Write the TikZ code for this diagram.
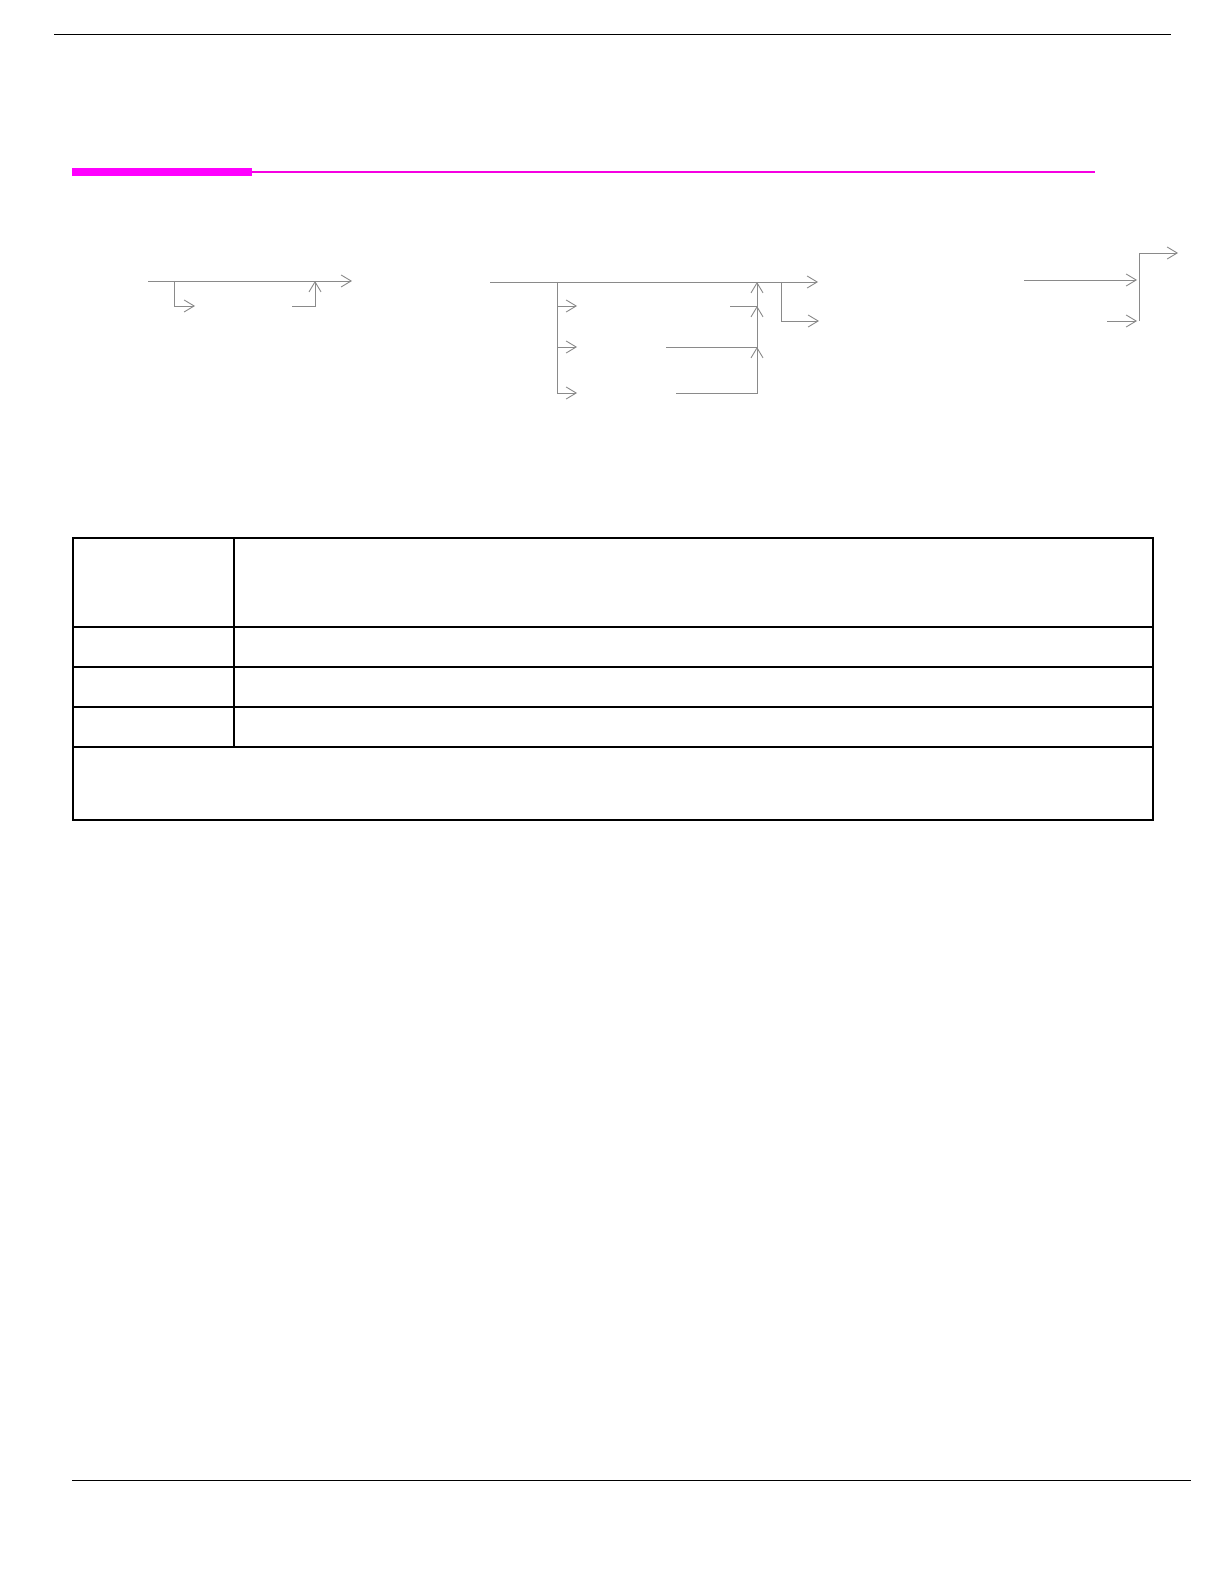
\documentclass[tikz,border=0pt]{standalone}
\usetikzlibrary{arrows.meta}
\definecolor{flowgray}{HTML}{8A8A8A}
\definecolor{rulemag}{HTML}{FF00FF}
\tikzset{
  flow/.style={draw=flowgray, line width=0.45pt},
  flowarrow/.style={flow, -{Straight Barb[length=5pt, width=6pt, line width=0.45pt]}},
  blackrule/.style={draw=black, line width=0.65pt},
  tableline/.style={draw=black, line width=0.55pt},
}
\begin{document}
\begin{tikzpicture}[x=0.5pt, y=-0.5pt]
\useasboundingbox (0,0) rectangle (1224,1582);
\fill[white] (0,0) rectangle (1224,1582);

% page rules
\coordinate (topL) at (54,34.3);
\coordinate (topR) at (1171,34.3);
\draw[blackrule] (topL) -- (topR);
\coordinate (botL) at (72,1480.3);
\coordinate (botR) at (1191,1480.3);
\draw[blackrule] (botL) -- (botR);

% magenta heading rule
\coordinate (magA) at (72,172);
\coordinate (magB) at (252,172);
\coordinate (magC) at (1095,172);
\draw[rulemag, line width=3.9pt] (magA) -- (magB);
\draw[rulemag!85!purple, line width=1.1pt] (magB) -- (magC);

% ---- diagram 1 ----
\coordinate (d1s) at (148,281);
\coordinate (d1e) at (352,281);
\coordinate (d1b) at (174,281);
\coordinate (d1bd) at (174,306);
\coordinate (d1be) at (195,306);
\coordinate (d1us) at (292,306);
\coordinate (d1uc) at (315,306);
\coordinate (d1ue) at (315,281);
\draw[flowarrow] (d1s) -- (d1e);
\draw[flowarrow] (d1b) -- (d1bd) -- (d1be);
\draw[flowarrow] (d1us) -- (d1uc) -- (d1ue);

% ---- diagram 2 ----
\coordinate (d2s) at (490,282);
\coordinate (d2e) at (818,282);
\draw[flowarrow] (d2s) -- (d2e);
\coordinate (d2vt) at (557,282);
\coordinate (d2vb) at (557,393);
\draw[flow] (d2vt) -- (d2vb);
\coordinate (d2a1) at (557,306);
\coordinate (d2a1e) at (577,306);
\coordinate (d2a2) at (557,347);
\coordinate (d2a2e) at (577,347);
\coordinate (d2a3e) at (577,393);
\draw[flowarrow] (d2a1) -- (d2a1e);
\draw[flowarrow] (d2a2) -- (d2a2e);
\draw[flowarrow] (d2vb) -- (d2a3e);
\coordinate (d2r3s) at (676,393);
\coordinate (d2r3c) at (757,393);
\coordinate (d2r2s) at (666,347);
\coordinate (d2r2c) at (757,347);
\coordinate (d2r1s) at (730,306);
\coordinate (d2r1c) at (757,306);
\coordinate (d2r0) at (757,282);
\draw[flowarrow] (d2r3s) -- (d2r3c) -- (d2r2c);
\draw[flowarrow] (d2r2s) -- (d2r2c) -- (d2r1c);
\draw[flowarrow] (d2r1s) -- (d2r1c) -- (d2r0);
\coordinate (d2bt) at (781,282);
\coordinate (d2bc) at (781,321);
\coordinate (d2be) at (819,321);
\draw[flowarrow] (d2bt) -- (d2bc) -- (d2be);

% ---- diagram 3 ----
\coordinate (d3s) at (1024,280);
\coordinate (d3e) at (1137,280);
\draw[flowarrow] (d3s) -- (d3e);
\coordinate (d3ls) at (1107,321);
\coordinate (d3le) at (1137,321);
\draw[flowarrow] (d3ls) -- (d3le);
\coordinate (d3vb) at (1139,321);
\coordinate (d3vt) at (1139,253);
\coordinate (d3ve) at (1178,253);
\draw[flowarrow] (d3vb) -- (d3vt) -- (d3ve);

% ---- table ----
\coordinate (tTL) at (73,538);
\coordinate (tBR) at (1153,820);
\draw[tableline] (tTL) rectangle (tBR);
\coordinate (tdivT) at (234,538);
\coordinate (tdivB) at (234,747);
\draw[tableline] (tdivT) -- (tdivB);
\foreach \yy in {627,667,707,747}{
  \draw[tableline] (73,\yy) -- (1153,\yy);
}
\end{tikzpicture}
\end{document}
